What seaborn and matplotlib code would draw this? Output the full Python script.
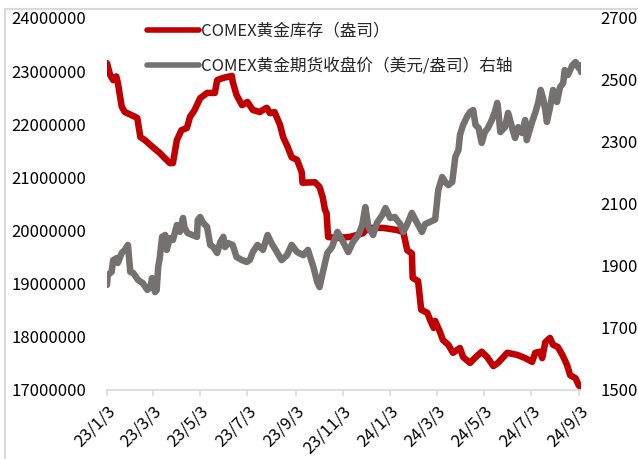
import matplotlib
matplotlib.use("Agg")
import matplotlib.pyplot as plt
from matplotlib.lines import Line2D
import seaborn as sns
import pandas as pd

# ---------------- data ----------------
inv_label = "COMEX黄金库存（盎司）"
price_label = "COMEX黄金期货收盘价（美元/盎司）右轴"

inv_dates = [
    "2023-01-03", "2023-01-07", "2023-01-11", "2023-01-15", "2023-01-17", "2023-01-22",
    "2023-01-26", "2023-02-04", "2023-02-11", "2023-02-15", "2023-02-21", "2023-03-03",
    "2023-03-12", "2023-03-18", "2023-03-25", "2023-03-29", "2023-04-03", "2023-04-09",
    "2023-04-16", "2023-04-20", "2023-04-26", "2023-05-03", "2023-05-12", "2023-05-22",
    "2023-05-25", "2023-06-01", "2023-06-13", "2023-06-14", "2023-06-19", "2023-06-26",
    "2023-07-03", "2023-07-10", "2023-07-19", "2023-07-23", "2023-07-28", "2023-08-01",
    "2023-08-07", "2023-08-14", "2023-08-18", "2023-08-24", "2023-08-29", "2023-09-05",
    "2023-09-11", "2023-09-12", "2023-09-28", "2023-10-04", "2023-10-08", "2023-10-11",
    "2023-10-13", "2023-10-15", "2023-10-26", "2023-11-12", "2023-11-29", "2023-12-05",
    "2023-12-25", "2024-01-12", "2024-01-20", "2024-01-25", "2024-01-31", "2024-02-01",
    "2024-02-08", "2024-02-12", "2024-02-20", "2024-02-24", "2024-02-28", "2024-03-01",
    "2024-03-07", "2024-03-11", "2024-03-18", "2024-03-24", "2024-04-02", "2024-04-06",
    "2024-04-15", "2024-04-21", "2024-04-30", "2024-05-07", "2024-05-15", "2024-05-21",
    "2024-06-02", "2024-06-15", "2024-06-25", "2024-07-04", "2024-07-08", "2024-07-14",
    "2024-07-17", "2024-07-21", "2024-07-27", "2024-07-31", "2024-08-06", "2024-08-12",
    "2024-08-18", "2024-08-22", "2024-08-29", "2024-09-02", "2024-09-05",
]
inv_values = [
    23150000, 22930000, 22830000, 22900000, 22780000, 22330000,
    22230000, 22170000, 22120000, 21760000, 21700000, 21570000,
    21460000, 21370000, 21270000, 21270000, 21700000, 21890000,
    21930000, 22140000, 22270000, 22490000, 22590000, 22590000,
    22830000, 22870000, 22910000, 22800000, 22550000, 22360000,
    22420000, 22270000, 22230000, 22270000, 22310000, 22210000,
    22230000, 21990000, 21760000, 21570000, 21380000, 21330000,
    21100000, 20900000, 20910000, 20820000, 20630000, 20390000,
    20330000, 19880000, 19860000, 19880000, 19950000, 20050000,
    20050000, 20010000, 19970000, 19630000, 19570000, 19110000,
    19050000, 18510000, 18450000, 18300000, 18170000, 18300000,
    18100000, 17940000, 17850000, 17700000, 17790000, 17620000,
    17510000, 17600000, 17720000, 17620000, 17450000, 17510000,
    17700000, 17660000, 17600000, 17530000, 17700000, 17720000,
    17600000, 17900000, 17980000, 17850000, 17810000, 17660000,
    17470000, 17280000, 17220000, 17090000, 17050000,
]

price_dates = [
    "2023-01-03", "2023-01-04", "2023-01-09", "2023-01-11", "2023-01-16", "2023-01-17",
    "2023-01-22", "2023-01-26", "2023-01-30", "2023-02-02", "2023-02-06", "2023-02-12",
    "2023-02-18", "2023-02-24", "2023-02-28", "2023-03-02", "2023-03-06", "2023-03-08",
    "2023-03-10", "2023-03-12", "2023-03-15", "2023-03-19", "2023-03-21", "2023-03-25",
    "2023-03-29", "2023-04-03", "2023-04-07", "2023-04-11", "2023-04-13", "2023-04-17",
    "2023-04-23", "2023-04-29", "2023-04-30", "2023-05-03", "2023-05-07", "2023-05-12",
    "2023-05-16", "2023-05-20", "2023-05-25", "2023-05-29", "2023-06-02", "2023-06-04",
    "2023-06-08", "2023-06-14", "2023-06-19", "2023-06-26", "2023-07-02", "2023-07-06",
    "2023-07-10", "2023-07-16", "2023-07-23", "2023-07-29", "2023-08-03", "2023-08-10",
    "2023-08-16", "2023-08-23", "2023-08-29", "2023-09-05", "2023-09-13", "2023-09-19",
    "2023-09-26", "2023-10-01", "2023-10-04", "2023-10-08", "2023-10-14", "2023-10-20",
    "2023-10-27", "2023-11-02", "2023-11-10", "2023-11-16", "2023-11-23", "2023-11-28",
    "2023-12-02", "2023-12-06", "2023-12-12", "2023-12-17", "2023-12-24", "2023-12-28",
    "2024-01-03", "2024-01-09", "2024-01-16", "2024-01-20", "2024-01-25", "2024-01-31",
    "2024-02-06", "2024-02-13", "2024-02-17", "2024-02-23", "2024-03-01", "2024-03-05",
    "2024-03-10", "2024-03-14", "2024-03-18", "2024-03-23", "2024-03-27", "2024-03-31",
    "2024-04-02", "2024-04-06", "2024-04-11", "2024-04-15", "2024-04-19", "2024-04-22",
    "2024-04-26", "2024-04-30", "2024-05-04", "2024-05-08", "2024-05-13", "2024-05-17",
    "2024-05-20", "2024-05-21", "2024-05-24", "2024-05-30", "2024-06-03", "2024-06-08",
    "2024-06-12", "2024-06-16", "2024-06-21", "2024-06-25", "2024-06-27", "2024-07-04",
    "2024-07-08", "2024-07-12", "2024-07-15", "2024-07-18", "2024-07-21", "2024-07-23",
    "2024-07-27", "2024-07-31", "2024-08-05", "2024-08-09", "2024-08-13", "2024-08-15",
    "2024-08-19", "2024-08-25", "2024-08-29", "2024-09-02", "2024-09-04", "2024-09-05",
]
price_values = [
    1839, 1871, 1881, 1919, 1926, 1910,
    1942, 1952, 1968, 1881, 1877, 1855,
    1845, 1823, 1832, 1861, 1816, 1822,
    1897, 1926, 1994, 2000, 1952, 1990,
    1984, 2032, 2010, 2055, 2023, 2006,
    2000, 1994, 2048, 2058, 2039, 2026,
    1968, 1961, 1942, 1977, 1994, 1961,
    1974, 1968, 1929, 1919, 1913, 1919,
    1945, 1968, 1952, 2000, 1974, 1945,
    1919, 1935, 1968, 1945, 1935, 1952,
    1897, 1848, 1832, 1877, 1942, 1961,
    2010, 1984, 1945, 1977, 2000, 2032,
    2090, 2026, 2000, 2039, 2065, 2087,
    2055, 2058, 2035, 2010, 2035, 2071,
    2042, 2010, 2035, 2042, 2050, 2145,
    2187, 2171, 2161, 2171, 2252, 2274,
    2323, 2355, 2381, 2397, 2403, 2355,
    2345, 2297, 2332, 2345, 2371, 2397,
    2426, 2410, 2332, 2348, 2394, 2348,
    2313, 2348, 2329, 2371, 2306, 2365,
    2394, 2429, 2468, 2442, 2403, 2365,
    2410, 2468, 2429, 2477, 2490, 2532,
    2516, 2548, 2558, 2539, 2548, 2526,
]

x_tick_dates = ["2023-01-03", "2023-03-03", "2023-05-03", "2023-07-03", "2023-09-03",
                "2023-11-03", "2024-01-03", "2024-03-03", "2024-05-03", "2024-07-03",
                "2024-09-03"]
x_tick_labels = ["23/1/3", "23/3/3", "23/5/3", "23/7/3", "23/9/3", "23/11/3",
                 "24/1/3", "24/3/3", "24/5/3", "24/7/3", "24/9/3"]
left_ticks = [17000000, 18000000, 19000000, 20000000, 21000000, 22000000, 23000000, 24000000]
right_ticks = [1500, 1700, 1900, 2100, 2300, 2500, 2700]

# ---------------- style ----------------
sns.set_theme(style="white")
plt.rcParams["font.family"] = ["Noto Sans CJK SC", "DejaVu Sans"]

RED = "#C00000"
GRAY = "#767171"
AXIS = "#D9D9D9"
FS = 12
LW = 4.7

fig = plt.figure(figsize=(6.38, 4.59), dpi=100)
W, H = 638, 459
ax = fig.add_axes([107 / W, 1 - 390 / H, (581 - 107) / W, (390 - 18) / H])

df_inv = pd.DataFrame({"date": pd.to_datetime(inv_dates), "value": inv_values})
df_price = pd.DataFrame({"date": pd.to_datetime(price_dates), "value": price_values})

sns.lineplot(data=df_inv, x="date", y="value", ax=ax, color=RED, linewidth=LW,
             legend=False, solid_capstyle="round", solid_joinstyle="round")
ax2 = ax.twinx()
sns.lineplot(data=df_price, x="date", y="value", ax=ax2, color=GRAY, linewidth=LW,
             legend=False, solid_capstyle="round", solid_joinstyle="round")

ax.set_xlim(pd.Timestamp("2023-01-03"), pd.Timestamp("2024-09-05"))
ax.set_ylim(17000000, 24000000)
ax2.set_ylim(1500, 2700)

ax.set_xticks(pd.to_datetime(x_tick_dates))
ax.set_xticklabels(x_tick_labels, rotation=45, ha="right", rotation_mode="anchor", fontsize=FS)
ax.set_yticks(left_ticks)
ax.set_yticklabels([str(v) for v in left_ticks], fontsize=FS)
ax2.set_yticks(right_ticks)
ax2.set_yticklabels([str(v) for v in right_ticks], fontsize=FS)

ax.set_xlabel("")
ax.set_ylabel("")
ax2.set_ylabel("")

for a in (ax, ax2):
    for s in ("top", "left", "right", "bottom"):
        a.spines[s].set_visible(False)
    a.grid(False)
ax.spines["bottom"].set_visible(True)
ax.spines["bottom"].set_color(AXIS)
ax.spines["bottom"].set_linewidth(1.2)

ax.tick_params(axis="x", length=4, width=1.2, color=AXIS, pad=5, labelcolor="black", bottom=True)
ax.tick_params(axis="y", length=0, pad=15, labelcolor="black")
ax2.tick_params(axis="y", length=0, pad=14, labelcolor="black")

handles = [Line2D([], [], color=RED, linewidth=4.0, solid_capstyle="round"),
           Line2D([], [], color=GRAY, linewidth=4.0, solid_capstyle="round")]
ax2.legend(handles, [inv_label, price_label], loc="upper left",
           bbox_to_anchor=(0.085, 0.987), frameon=False, fontsize=FS,
           handlelength=3.1, handletextpad=0.15, labelspacing=1.05,
           borderpad=0, borderaxespad=0)

# outer frame (top and left edges visible)
fig.add_artist(Line2D([5 / W, 1], [1 - 9 / H, 1 - 9 / H], color=AXIS, lw=1.5,
                      transform=fig.transFigure))
fig.add_artist(Line2D([5 / W, 5 / W], [0, 1 - 9 / H], color=AXIS, lw=1.5,
                      transform=fig.transFigure))

fig.savefig("out.png", dpi=100)
